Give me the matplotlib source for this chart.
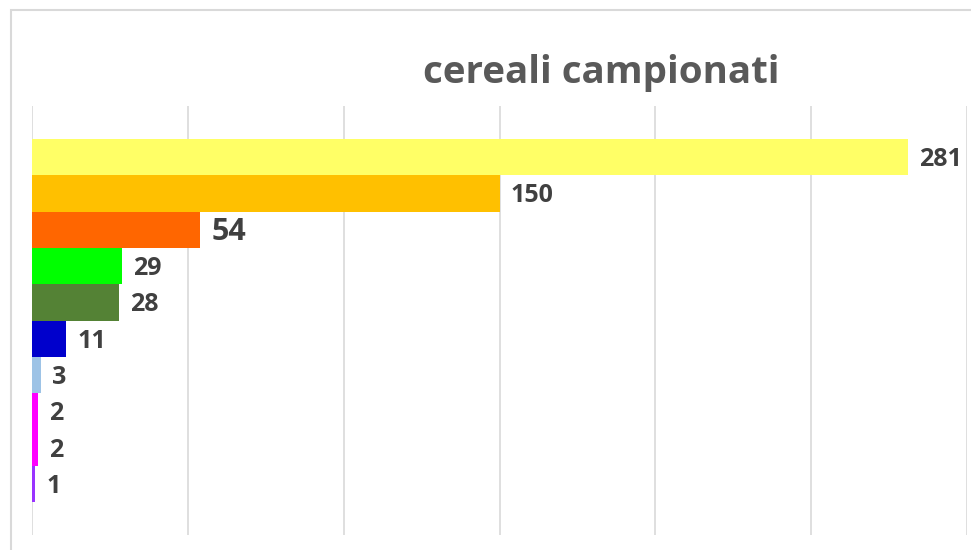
import matplotlib
matplotlib.use("Agg")
import matplotlib.pyplot as plt
from matplotlib.patches import Rectangle

categories = ["c1", "c2", "c3", "c4", "c5", "c6", "c7", "c8", "c9", "c10"]
values = [281, 150, 54, 29, 28, 11, 3, 2, 2, 1]
colors = ["#FFFF66", "#FFC000", "#FF6600", "#00FF00", "#548235",
          "#0000CC", "#9DC3E6", "#FF00FF", "#FF00FF", "#9933FF"]
label_sizes = [18, 18, 22, 18, 18, 18, 18, 18, 18, 18]
title = "cereali campionati"

W, H = 971, 550
fig = plt.figure(figsize=(W / 100, H / 100), dpi=100)
fig.patch.set_facecolor("white")

# outer chart border
fig.patches.append(Rectangle((11 / W, -0.1), 1.2, (H - 10) / H + 0.1,
                             transform=fig.transFigure, fill=False,
                             edgecolor="#D9D9D9", linewidth=1.5))

left, right, top, bottom = 32, 967, 106, 535
ax = fig.add_axes([left / W, 1 - bottom / H, (right - left) / W, (bottom - top) / H])
ax.set_facecolor("none")

pos = list(range(len(values)))
ax.barh(pos, values, height=1.0, color=colors, zorder=2)
ax.set_xlim(0, 300)
pad = 0.909
ax.set_ylim(len(values) - 0.5 + pad, -0.5 - pad)

for x in range(0, 301, 50):
    ax.axvline(x, color="#D9D9D9", linewidth=1.2, zorder=1)

for p, v, s in zip(pos, values, label_sizes):
    ax.annotate(str(v), (v, p), xytext=(8, -1.8), textcoords="offset points",
                va="center", ha="left", fontsize=s, fontweight="bold",
                color="#404040", family="Open Sans", zorder=3)

for sp in ax.spines.values():
    sp.set_visible(False)
ax.set_xticks([])
ax.set_yticks([])

fig.text(601 / W, 1 - 73 / H, title, ha="center", va="center",
         fontsize=27.7, fontweight="bold", color="#595959", family="Open Sans")

fig.savefig("out.png", dpi=100, facecolor="white")
